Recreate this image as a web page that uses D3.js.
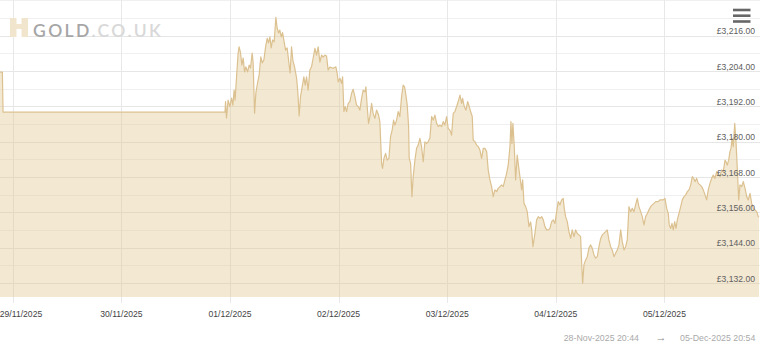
<!DOCTYPE html>
<html>
<head>
<meta charset="utf-8">
<script src="https://cdn.jsdelivr.net/npm/d3@7"></script>
<style>
  html, body { margin: 0; padding: 0; background: #fff; }
  svg { display: block; font-family: "Liberation Sans", Arial, sans-serif; }
</style>
</head>
<body>
<div id="chart"></div>
<script>
// hours relative to 29/11/2025 00:00, and spot price in GBP
const hours = [
  -3.27, -2.3, -2.15, 46.9, 47.02, 47.24, 47.59, 47.97, 48.35, 48.63, 48.92, 49.14, 49.45, 49.8, 50.02,
  50.33, 50.62, 50.91, 51.22, 51.5, 51.88, 52.23, 52.54, 52.9, 53.12, 53.43, 53.71, 54.09, 54.44, 54.82,
  55.11, 55.48, 55.86, 56.21, 56.52, 56.81, 57.1, 57.4, 57.76, 58.13, 58.42, 58.73, 59.02, 59.31, 59.62,
  59.9, 60.28, 60.63, 61.01, 61.29, 61.6, 61.89, 62.27, 62.71, 63.0, 63.28, 63.59, 63.95, 64.32, 64.61,
  64.92, 65.27, 65.65, 66.02, 66.38, 66.76, 67.13, 67.48, 67.86, 68.24, 68.59, 68.97, 69.34, 69.69, 70.07,
  70.8, 71.4, 71.68, 71.91, 72.28, 72.66, 72.88, 73.16, 73.45, 73.76, 74.12, 74.49, 74.87, 75.22, 75.6,
  75.97, 76.33, 76.7, 77.08, 77.43, 77.81, 78.03, 78.32, 78.62, 78.91, 79.29, 79.64, 80.02, 80.39, 80.84,
  81.12, 81.5, 81.72, 82.01, 82.38, 82.74, 83.11, 83.49, 83.84, 84.15, 84.44, 84.81, 85.17, 85.54, 85.92,
  86.27, 86.58, 86.87, 87.16, 87.47, 87.6, 87.91, 88.2, 88.48, 88.86, 89.24, 89.59, 89.97, 90.34, 90.7,
  91.07, 91.45, 91.8, 92.18, 92.55, 92.91, 93.29, 93.66, 94.01, 94.39, 94.76, 95.12, 95.49, 95.87, 96.22,
  96.6, 96.97, 97.33, 97.7, 98.08, 98.43, 98.81, 99.18, 99.4, 99.76, 100.13, 100.51, 100.86, 101.17, 101.53,
  101.75, 102.12, 102.5, 102.85, 103.23, 103.6, 103.96, 104.33, 104.71, 105.06, 105.44, 105.81, 106.17, 106.54, 106.92,
  107.27, 107.65, 108.02, 108.38, 108.75, 109.13, 109.48, 109.86, 110.08, 110.3, 110.52, 110.81, 111.12, 111.47, 111.78,
  112.07, 112.45, 112.67, 112.96, 113.33, 113.69, 114.06, 114.44, 114.66, 114.95, 115.39, 115.77, 116.12, 116.5, 116.87,
  117.23, 117.6, 117.98, 118.33, 118.7, 119.08, 119.43, 119.81, 120.18, 120.54, 120.91, 121.29, 121.64, 121.86, 122.17,
  122.53, 122.9, 123.28, 123.63, 124.01, 124.38, 124.74, 125.11, 125.49, 125.71, 125.93, 126.22, 126.59, 126.95, 127.32,
  127.7, 128.05, 128.43, 128.8, 129.16, 129.53, 129.91, 130.26, 130.64, 131.01, 131.36, 131.74, 132.12, 132.47, 132.85,
  133.22, 133.58, 133.95, 134.33, 134.68, 135.06, 135.43, 135.79, 136.16, 136.54, 136.89, 137.27, 137.64, 138.0, 138.37,
  138.75, 139.1, 139.48, 139.85, 140.21, 140.58, 140.96, 141.31, 141.69, 142.06, 142.64, 143.01, 143.74, 144.12, 144.5,
  144.85, 145.07, 145.38, 145.67, 145.96, 146.27, 146.56, 146.85, 147.22, 147.6, 147.95, 148.33, 148.7, 149.06, 149.43,
  149.81, 150.16, 150.47, 150.76, 151.13, 151.49, 151.86, 152.23, 152.59, 152.96, 153.34, 153.69, 154.07, 154.44, 154.8,
  155.17, 155.55, 155.9, 156.28, 156.65, 157.01, 157.38, 157.6, 157.89, 158.2, 158.49, 158.71, 158.93, 159.22, 159.53,
  159.82, 160.1, 160.41, 160.7, 161.08, 161.43, 161.81, 162.18, 162.54, 162.91, 163.29, 163.64, 164.02, 164.39, 164.75,
  164.9
];
const prices = [
  3203.6, 3203.6, 3190.0, 3190.0, 3193.6, 3188.0, 3194.1, 3191.9, 3194.8, 3192.4, 3197.5, 3194.1, 3202.0, 3210.1, 3212.2,
  3210.1, 3206.0, 3208.4, 3203.7, 3205.4, 3203.7, 3206.0, 3205.0, 3210.1, 3206.7, 3189.6, 3196.5, 3199.9, 3202.6, 3208.8,
  3206.7, 3207.7, 3212.2, 3215.1, 3213.5, 3215.6, 3211.8, 3214.5, 3213.9, 3222.2, 3218.6, 3216.9, 3217.9, 3215.6, 3217.0,
  3214.5, 3211.1, 3211.8, 3206.7, 3203.3, 3212.2, 3207.7, 3205.4, 3201.6, 3196.5, 3188.7, 3195.3, 3198.6, 3202.0, 3199.2,
  3202.0, 3197.5, 3204.3, 3205.4, 3208.4, 3211.7, 3209.4, 3212.2, 3207.0, 3209.4, 3208.7, 3209.4, 3209.1, 3204.3, 3205.3,
  3204.9, 3205.4, 3203.2, 3200.3, 3201.5, 3199.8, 3202.0, 3190.2, 3191.9, 3190.2, 3193.0, 3193.6, 3196.4, 3197.8, 3195.3,
  3192.4, 3191.9, 3190.7, 3194.7, 3197.5, 3196.9, 3198.6, 3191.9, 3186.2, 3188.5, 3193.0, 3189.6, 3187.9, 3190.7, 3189.0,
  3186.8, 3172.6, 3170.9, 3174.3, 3176.0, 3173.7, 3174.3, 3181.7, 3183.9, 3187.3, 3185.6, 3187.3, 3190.2, 3188.5, 3195.3,
  3199.2, 3198.6, 3195.8, 3192.4, 3185.1, 3174.3, 3172.6, 3161.3, 3168.1, 3173.7, 3177.7, 3178.8, 3181.1, 3178.3, 3173.2,
  3179.9, 3179.4, 3180.0, 3181.2, 3188.5, 3187.3, 3189.0, 3186.2, 3185.1, 3185.6, 3185.1, 3186.8, 3185.6, 3188.5, 3184.5,
  3183.9, 3182.2, 3189.6, 3190.2, 3191.9, 3193.6, 3195.8, 3193.0, 3194.7, 3191.9, 3190.7, 3193.6, 3191.9, 3190.2, 3188.5,
  3180.5, 3180.0, 3178.8, 3178.3, 3177.1, 3174.3, 3177.7, 3177.7, 3176.6, 3170.3, 3167.0, 3164.7, 3161.3, 3163.6, 3163.0,
  3164.1, 3164.7, 3165.3, 3164.7, 3167.0, 3169.2, 3172.1, 3178.3, 3186.8, 3179.4, 3186.2, 3178.3, 3167.0, 3175.4, 3171.5,
  3168.1, 3163.6, 3167.0, 3159.0, 3157.9, 3156.2, 3151.1, 3152.7, 3150.0, 3144.3, 3148.8, 3153.4, 3154.5, 3153.9, 3154.5,
  3153.4, 3151.1, 3150.0, 3150.0, 3150.5, 3152.8, 3153.4, 3152.2, 3156.2, 3159.6, 3158.5, 3160.2, 3160.7, 3157.3, 3154.5,
  3152.8, 3149.4, 3147.1, 3150.0, 3147.7, 3150.0, 3148.8, 3148.3, 3147.7, 3138.7, 3131.9, 3138.1, 3139.8, 3140.9, 3143.8,
  3144.9, 3143.8, 3141.5, 3140.4, 3140.9, 3144.3, 3147.1, 3148.3, 3148.8, 3149.4, 3150.0, 3146.6, 3144.3, 3143.2, 3140.9,
  3142.1, 3143.2, 3144.9, 3150.0, 3146.0, 3143.2, 3144.3, 3146.6, 3157.9, 3156.2, 3157.3, 3156.2, 3158.5, 3160.7, 3157.9,
  3156.2, 3154.5, 3151.7, 3154.5, 3155.6, 3156.8, 3157.9, 3158.5, 3159.0, 3159.6, 3159.6, 3160.2, 3160.2, 3160.7, 3157.3,
  3155.6, 3151.7, 3150.5, 3152.2, 3150.0, 3152.8, 3150.5, 3153.4, 3155.6, 3157.9, 3160.2, 3161.3, 3161.9, 3163.0, 3163.6,
  3165.3, 3168.1, 3167.5, 3166.4, 3167.5, 3165.8, 3165.3, 3164.7, 3163.6, 3161.9, 3160.2, 3163.6, 3165.8, 3167.5, 3168.6,
  3167.5, 3169.8, 3169.2, 3168.1, 3170.4, 3169.8, 3173.7, 3173.2, 3172.0, 3173.7, 3176.6, 3177.7, 3181.1, 3178.3, 3186.2,
  3180.0, 3170.9, 3160.2, 3165.3, 3164.7, 3166.4, 3164.1, 3161.3, 3160.2, 3162.4, 3159.0, 3157.3, 3156.8, 3156.2, 3154.5,
  3154.3
];
const yTickValues = [3132, 3144, 3156, 3168, 3180, 3192, 3204, 3216];
const yMinorValues = [3138, 3150, 3162, 3174, 3186, 3198, 3210, 3222, 3228];
const dayTicks = ["2025-11-29", "2025-11-30", "2025-12-01", "2025-12-02", "2025-12-03", "2025-12-04", "2025-12-05"];

const width = 760, height = 344;
const plotBottom = 297;
const base = new Date(2025, 10, 29, 0, 0);
const toDate = h => new Date(base.getTime() + Math.round(h * 60) * 60000);
const data = hours.map((h, i) => ({ t: toDate(h), v: prices[i] }));

const svg = d3.select("#chart").append("svg")
  .attr("width", width)
  .attr("height", height);

const x = d3.scaleTime()
  .domain([data[0].t, data[data.length - 1].t])
  .range([-2, 759]);
const y = d3.scaleLinear()
  .domain([3127.2, 3228.1])
  .range([plotBottom, 0]);

const parseDay = d3.timeParse("%Y-%m-%d");
const days = dayTicks.map(parseDay);

// grid
const grid = svg.append("g");
grid.selectAll(".minor").data(yMinorValues).enter().append("line")
  .attr("x1", 0).attr("x2", width)
  .attr("y1", d => Math.round(y(d)) + 0.5).attr("y2", d => Math.round(y(d)) + 0.5)
  .attr("stroke", "#f0f0f0");
grid.selectAll(".major").data(yTickValues).enter().append("line")
  .attr("x1", 0).attr("x2", width)
  .attr("y1", d => Math.round(y(d)) + 0.5).attr("y2", d => Math.round(y(d)) + 0.5)
  .attr("stroke", "#e6e6e6");
grid.selectAll(".vert").data(days).enter().append("line")
  .attr("x1", d => Math.round(x(d)) + 0.5).attr("x2", d => Math.round(x(d)) + 0.5)
  .attr("y1", 0).attr("y2", plotBottom + 6)
  .attr("stroke", "#e8e8e8");

// logo watermark
const logo = svg.append("g");
logo.append("rect").attr("x", 10).attr("y", 18).attr("width", 18).attr("height", 19).attr("fill", "#f1e6cd");
logo.append("rect").attr("x", 16.5).attr("y", 18).attr("width", 5).attr("height", 6).attr("fill", "#fff");
logo.append("rect").attr("x", 16.5).attr("y", 29).attr("width", 5).attr("height", 8).attr("fill", "#fff");
logo.append("text").attr("x", 33).attr("y", 37.3)
  .attr("font-size", 17.5).attr("letter-spacing", 2.4).attr("font-weight", 600)
  .style("font-family", "Lato, 'Liberation Sans', sans-serif")
  .selectAll("tspan").data([["GOLD", "#a6a6a6"], [".CO.UK", "#d8d8d8"]]).enter().append("tspan")
  .attr("fill", d => d[1]).text(d => d[0]);

// area + line
const area = d3.area().x(d => x(d.t)).y0(plotBottom).y1(d => y(d.v));
const line = d3.line().x(d => x(d.t)).y(d => y(d.v));
svg.append("path").datum(data).attr("d", area)
  .attr("fill", "#e2c58e").attr("fill-opacity", 0.4);
svg.append("path").datum(data).attr("d", line)
  .attr("fill", "none").attr("stroke", "#dcc190").attr("stroke-width", 1.2)
  .attr("stroke-linejoin", "round");

// y labels inside right
svg.append("g").selectAll("text").data(yTickValues).enter().append("text")
  .attr("x", 755).attr("y", d => y(d) - 1.2)
  .attr("text-anchor", "end")
  .attr("font-size", 8.6).attr("fill", "#606060")
  .text(d => "£" + d3.format(",.2f")(d));

// x labels
const fmtDay = d3.timeFormat("%d/%m/%Y");
svg.append("g").selectAll("text").data(days).enter().append("text")
  .attr("x", d => Math.max(x(d), 21))
  .attr("y", 317)
  .attr("text-anchor", "middle")
  .attr("font-size", 8.6).attr("fill", "#444")
  .text(fmtDay);

// range text
const fmtRange = d3.timeFormat("%d-%b-%Y %H:%M");
const rng = svg.append("g").attr("font-size", 8.8).attr("fill", "#aaa");
rng.append("text").attr("x", 639).attr("y", 341).attr("text-anchor", "end").text(fmtRange(data[0].t));
rng.append("text").attr("x", 661).attr("y", 341).attr("text-anchor", "middle")
  .attr("font-size", 11).attr("fill", "#888").text("→");
rng.append("text").attr("x", 680).attr("y", 341).text(fmtRange(data[data.length - 1].t));

// menu icon
svg.append("g").selectAll("line").data([10, 15.7, 21.5]).enter().append("line")
  .attr("x1", 733).attr("x2", 750.5)
  .attr("y1", d => d).attr("y2", d => d)
  .attr("stroke", "#666").attr("stroke-width", 2.6);
</script>
</body>
</html>
